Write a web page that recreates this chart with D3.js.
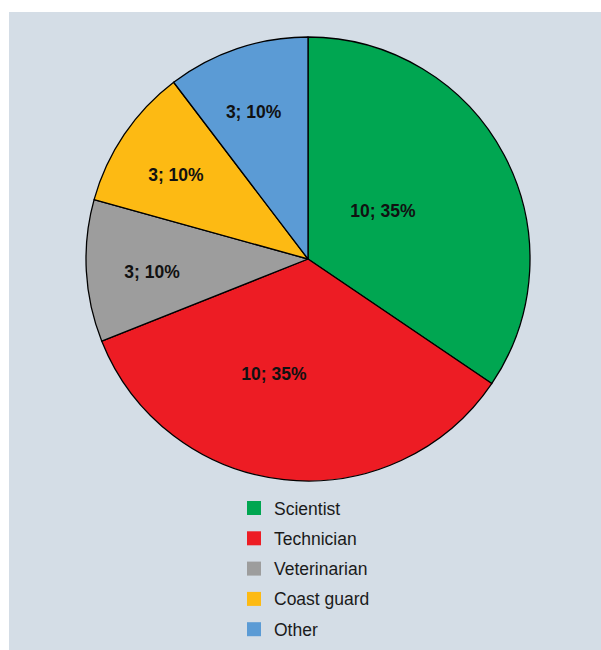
<!DOCTYPE html>
<html>
<head>
<meta charset="utf-8">
<script src="https://cdn.jsdelivr.net/npm/d3@7"></script>
<style>
  html, body { margin: 0; padding: 0; background: #ffffff; }
  svg { display: block; }
</style>
</head>
<body>
<svg id="chart" width="601" height="650"></svg>
<script>
const categories = ["Scientist", "Technician", "Veterinarian", "Coast guard", "Other"];
const counts = [10, 10, 3, 3, 3];
const percents = [35, 35, 10, 10, 10];
const colors = ["#00a651", "#ed1c24", "#9d9d9d", "#fdba13", "#5b9bd5"];

const svg = d3.select("#chart");
const W = 601, H = 650;

svg.append("rect")
  .attr("x", 9).attr("y", 12)
  .attr("width", W - 9).attr("height", H - 12)
  .attr("fill", "#d4dde6");

const cx = 308, cy = 259, R = 222;
const g = svg.append("g").attr("transform", `translate(${cx},${cy})`);

const data = categories.map((c, i) => ({ cat: c, value: counts[i], pct: percents[i], color: colors[i] }));

const pie = d3.pie().value(d => d.value).sort(null);
const arcs = pie(data);
const arc = d3.arc().innerRadius(0).outerRadius(R);

g.selectAll("path.slice")
  .data(arcs)
  .join("path")
  .attr("class", "slice")
  .attr("d", arc)
  .attr("fill", d => d.data.color)
  .attr("stroke", "#000")
  .attr("stroke-width", 1.3)
  .attr("stroke-linejoin", "round");

// label placement: big slices closer to center, small ones further out
g.selectAll("text.lbl")
  .data(arcs)
  .join("text")
  .attr("class", "lbl")
  .attr("transform", d => {
    const frac = (d.endAngle - d.startAngle) / (2 * Math.PI);
    const big = frac > 0.25;
    let a = (d.startAngle + d.endAngle) / 2;
    if (big && a > Math.PI) a += 0.18;
    if (big && a < Math.PI) a -= 0.08;
    if (!big) a -= 0.03;
    const r = big ? (a > Math.PI ? R * 0.54 : R * 0.40) : R * 0.705;
    return `translate(${r * Math.sin(a)},${-r * Math.cos(a)})`;
  })
  .attr("text-anchor", "middle")
  .attr("dominant-baseline", "central")
  .attr("font-family", "'Liberation Sans', Arial, sans-serif")
  .attr("font-size", 17.5)
  .attr("font-weight", 600)
  .attr("fill", "#111")
  .text(d => `${d.data.value}; ${d.data.pct}%`);

// legend
const legend = svg.append("g").attr("transform", "translate(247,508)");
const rows = legend.selectAll("g.row")
  .data(data)
  .join("g")
  .attr("class", "row")
  .attr("transform", (d, i) => `translate(0,${i * 30.3})`);

rows.append("rect")
  .attr("x", 0).attr("y", -7)
  .attr("width", 14).attr("height", 14)
  .attr("fill", d => d.color);

rows.append("text")
  .attr("x", 27).attr("y", 0.5)
  .attr("dominant-baseline", "central")
  .attr("font-family", "'Liberation Sans', Arial, sans-serif")
  .attr("font-size", 17.5)
  .attr("fill", "#1a1a1a")
  .text(d => d.cat);
</script>
</body>
</html>
